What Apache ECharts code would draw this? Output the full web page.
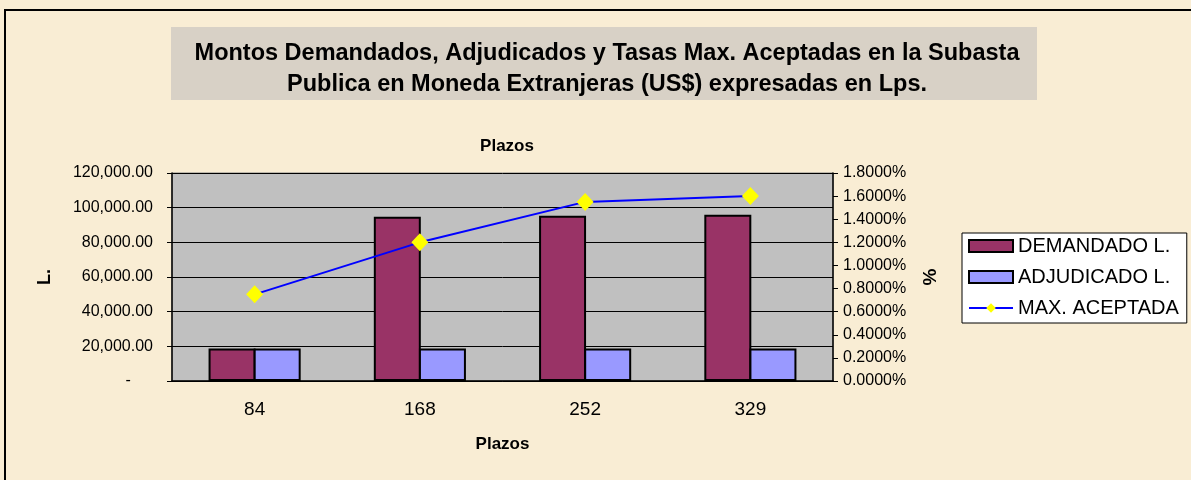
<!DOCTYPE html>
<html>
<head>
<meta charset="utf-8" />
<title>Subasta Publica</title>
<script src="https://cdn.jsdelivr.net/npm/echarts@6/dist/echarts.min.js"></script>
<style>
	body{margin:0;background:#F9EDD4;}
	#main{width:1191px;height:480px;}
</style>
</head>
<body>
<div id="main"></div>
<script type="text/javascript">
var plazos = ['84', '168', '252', '329'];
var demandado = [18800, 94800, 95400, 95900];
var adjudicado = [18800, 18800, 18800, 18800];
var maxAceptada = [0.75, 1.2, 1.55, 1.6];
var leftTicks = {min: 0, max: 120000, interval: 20000};
var rightTicks = {min: 0, max: 1.8, interval: 0.2};

var font = 'Arial, "Liberation Sans", sans-serif';
var myChart = echarts.init(document.getElementById('main'));
var option = {
	backgroundColor: '#F9EDD4',
	textStyle: {fontFamily: font, color: '#000'},
	title: [{
		text: 'Montos Demandados, Adjudicados y Tasas Max. Aceptadas en la Subasta\nPublica en Moneda Extranjeras (US$) expresadas en Lps.',
		left: 602, top: 33, textAlign: 'center',
		textStyle: {fontSize: 23.5, fontWeight: 'bold', lineHeight: 31, color: '#000', fontFamily: font}
	}, {
		text: 'Plazos',
		left: 502, top: 133, textAlign: 'center',
		textStyle: {fontSize: 17, fontWeight: 'bold', color: '#000', fontFamily: font}
	}],
	graphic: [{
		type: 'rect', z: -10,
		shape: {x: 171, y: 27, width: 866, height: 73},
		style: {fill: '#D8D1C6'}
	}, {
		type: 'rect', z: 100,
		shape: {x: 5, y: 10, width: 1200, height: 480},
		style: {fill: 'none', stroke: '#000', lineWidth: 2}
	}],
	legend: {
		orient: 'vertical', left: 962, top: 233,
		backgroundColor: '#fff', borderColor: '#000', borderWidth: 1,
		padding: [3, 8, 5, 6],
		itemWidth: 44, itemHeight: 12, itemGap: 11,
		textStyle: {fontSize: 20, color: '#000', fontFamily: font},
		data: [
			{name: 'DEMANDADO L.', icon: 'rect'},
			{name: 'ADJUDICADO L.', icon: 'rect'},
			{name: 'MAX. ACEPTADA'}
		]
	},
	grid: {
		left: 172, right: 358, top: 173, bottom: 99,
		show: true, backgroundColor: '#C0C0C0', borderColor: '#808080', borderWidth: 1
	},
	xAxis: {
		type: 'category', data: plazos,
		name: 'Plazos', nameLocation: 'middle', nameGap: 55,
		nameTextStyle: {fontSize: 17, fontWeight: 'bold', color: '#000'},
		axisLine: {lineStyle: {color: '#000', width: 1.5}},
		axisTick: {length: 6, lineStyle: {color: '#000'}},
		axisLabel: {fontSize: 19, color: '#000', margin: 19}
	},
	yAxis: [{
		type: 'value', min: leftTicks.min, max: leftTicks.max, interval: leftTicks.interval,
		name: 'L.', nameLocation: 'middle', nameGap: 118, nameRotate: 90,
		nameTextStyle: {fontSize: 18, fontWeight: 'bold', color: '#000'},
		axisLine: {show: true, lineStyle: {color: '#000', width: 1.5}},
		axisTick: {show: true, length: 5, lineStyle: {color: '#000'}},
		splitLine: {lineStyle: {color: '#000', width: 1}},
		axisLabel: {
			fontSize: 16, color: '#000', margin: 19,
			formatter: function (v) {
				if (v === 0) return '-\u00a0\u00a0\u00a0\u00a0\u00a0';
				return v.toLocaleString('en-US', {minimumFractionDigits: 2, maximumFractionDigits: 2});
			}
		}
	}, {
		type: 'value', min: rightTicks.min, max: rightTicks.max, interval: rightTicks.interval,
		name: '%', nameLocation: 'middle', nameGap: 88, nameRotate: 90,
		nameTextStyle: {fontSize: 19, fontWeight: 'bold', color: '#000'},
		axisLine: {show: true, lineStyle: {color: '#000', width: 1.5}},
		axisTick: {show: true, length: 5, lineStyle: {color: '#000'}},
		splitLine: {show: false},
		axisLabel: {
			fontSize: 16, color: '#000', margin: 10,
			formatter: function (v) { return v.toFixed(4) + '%'; }
		}
	}],
	series: [{
		name: 'DEMANDADO L.', type: 'bar', data: demandado,
		barWidth: 47, barGap: '-4%',
		itemStyle: {color: '#993366', borderColor: '#000', borderWidth: 2}
	}, {
		name: 'ADJUDICADO L.', type: 'bar', data: adjudicado,
		barWidth: 47,
		itemStyle: {color: '#9999FF', borderColor: '#000', borderWidth: 2}
	}, {
		name: 'MAX. ACEPTADA', type: 'line', yAxisIndex: 1, data: maxAceptada,
		symbol: 'diamond', symbolSize: [17, 18],
		lineStyle: {color: '#0000FF', width: 2},
		itemStyle: {color: '#FFFF00', borderWidth: 0}
	}]
};
myChart.setOption(option);
</script>
</body>
</html>
